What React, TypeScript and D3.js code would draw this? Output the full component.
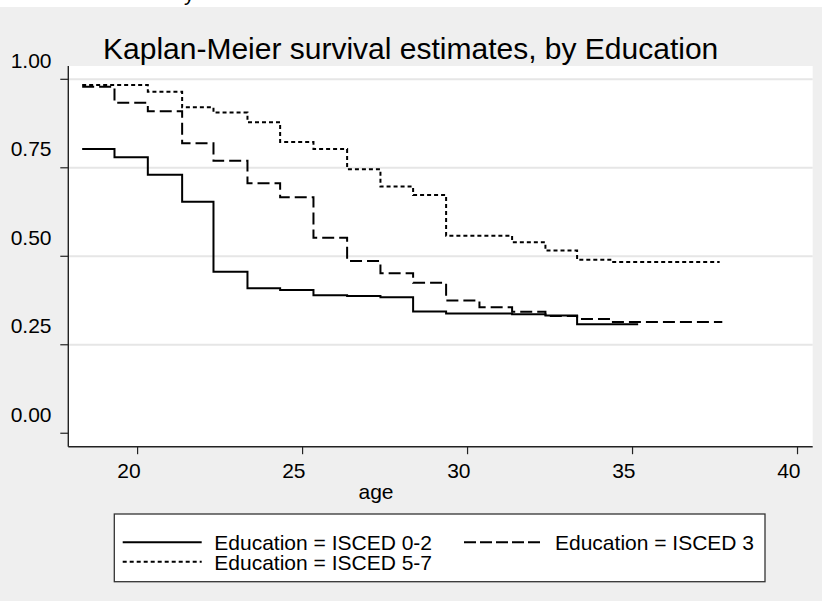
import React from "react";
import * as d3 from "d3";

const titleText = "Kaplan-Meier survival estimates, by Education";
const xLabel = "age";
const xTicks = [20, 25, 30, 35, 40];
const yTicks = [0, 0.25, 0.5, 0.75, 1];
const yTickLabels = ["0.00", "0.25", "0.50", "0.75", "1.00"];
const gridValues = [0.25, 0.5, 0.75, 1];

const seriesNames = ["Education = ISCED 0-2", "Education = ISCED 3", "Education = ISCED 5-7"];

const timesLow = [18.32, 19.3, 20.31, 21.35, 22.3, 23.33, 24.32, 25.33, 26.35, 27.36, 28.35, 29.35, 31.35, 32.36, 33.32];
const survLow = [0.803, 0.78, 0.73, 0.654, 0.456, 0.41, 0.405, 0.39, 0.388, 0.384, 0.344, 0.338, 0.336, 0.333, 0.308];
const endLow = 35.17;

const timesMid = [18.32, 19.3, 20.31, 21.35, 22.3, 23.33, 24.32, 25.33, 26.35, 27.36, 28.35, 29.35, 30.36, 31.35, 32.36, 33.32, 34.36];
const survMid = [0.979, 0.934, 0.91, 0.819, 0.77, 0.706, 0.667, 0.5525, 0.487, 0.452, 0.425, 0.375, 0.356, 0.3435, 0.331, 0.323, 0.3144];
const endMid = 37.72;

const timesHigh = [18.32, 20.31, 21.35, 22.3, 23.33, 24.32, 25.33, 26.35, 27.36, 28.35, 29.35, 31.35, 32.36, 33.32, 34.36];
const survHigh = [0.984, 0.965, 0.921, 0.906, 0.879, 0.823, 0.803, 0.746, 0.697, 0.673, 0.558, 0.5395, 0.516, 0.49, 0.484];
const endHigh = 37.64;

const FONT = "'Liberation Sans', Arial, Helvetica, sans-serif";

function stepPoints(times: number[], surv: number[], end: number): [number, number][] {
  const pts: [number, number][] = times.map((t, i) => [t, surv[i]]);
  pts.push([end, surv[surv.length - 1]]);
  return pts;
}

export default function App() {
  const W = 822;
  const H = 601;
  const plotL = 68.3, plotR = 812.7, plotT = 66, plotB = 446.7;

  const x = d3.scaleLinear().domain([17.9, 40.46]).range([plotL, plotR]);
  const y = d3.scaleLinear().domain([-0.038, 1.0376]).range([plotB, plotT]);

  const line = d3
    .line<[number, number]>()
    .x((d) => x(d[0]))
    .y((d) => y(d[1]))
    .curve(d3.curveStepAfter);

  const series = [
    { pts: stepPoints(timesLow, survLow, endLow), dash: undefined as string | undefined },
    { pts: stepPoints(timesMid, survMid, endMid), dash: "12,5" },
    { pts: stepPoints(timesHigh, survHigh, endHigh), dash: "4,3" },
  ];

  const axisColor = "#222";

  return (
    <svg
      width={W}
      height={H}
      style={{ position: "absolute", left: 0, top: 0, display: "block" }}
      xmlns="http://www.w3.org/2000/svg"
    >
      <rect x={0} y={0} width={W} height={H} fill="#efefef" />
      <rect x={0} y={0} width={W} height={7} fill="#ffffff" />
      <text x={184} y={1} fontFamily={FONT} fontSize={21} fill="#000">y</text>

      {/* plot region */}
      <rect x={plotL} y={plotT} width={plotR - plotL} height={plotB - plotT} fill="#ffffff" />

      {/* grid */}
      {gridValues.map((v) => (
        <line key={"g" + v} x1={plotL} x2={plotR} y1={y(v)} y2={y(v)} stroke="#e6e6e6" strokeWidth={2} />
      ))}

      {/* title */}
      <text x={103} y={59} fontFamily={FONT} fontSize={30} fill="#000">
        {titleText}
      </text>

      {/* curves */}
      {series.map((s, i) => (
        <path
          key={"s" + i}
          d={line(s.pts) || ""}
          fill="none"
          stroke="#000"
          strokeWidth={2}
          strokeDasharray={s.dash}
        />
      ))}

      {/* y axis */}
      <line x1={plotL} x2={plotL} y1={plotT} y2={plotB} stroke={axisColor} strokeWidth={1.4} />
      {yTicks.map((v, i) => (
        <g key={"yt" + v}>
          <line x1={plotL - 8} x2={plotL} y1={y(v)} y2={y(v)} stroke={axisColor} strokeWidth={1.2} />
          <text x={51.5} y={y(v) - 11.4} textAnchor="end" fontFamily={FONT} fontSize={21} fill="#000">
            {yTickLabels[i]}
          </text>
        </g>
      ))}

      {/* x axis */}
      <line x1={plotL} x2={plotR} y1={plotB} y2={plotB} stroke={axisColor} strokeWidth={1.4} />
      {xTicks.map((v) => (
        <g key={"xt" + v}>
          <line x1={x(v)} x2={x(v)} y1={plotB} y2={plotB + 7.5} stroke={axisColor} strokeWidth={1.2} />
          <text x={x(v) - 8.7} y={478.3} textAnchor="middle" fontFamily={FONT} fontSize={21} fill="#000">
            {v}
          </text>
        </g>
      ))}
      <text x={376} y={499} textAnchor="middle" fontFamily={FONT} fontSize={21} fill="#000">
        {xLabel}
      </text>

      {/* legend */}
      <rect x={114.3} y={514} width={650.7} height={67.7} fill="#ffffff" stroke="#333" strokeWidth={1.3} />
      <line x1={122.7} x2={201.7} y1={542.3} y2={542.3} stroke="#000" strokeWidth={2} />
      <text x={214.3} y={550} fontFamily={FONT} fontSize={21} fill="#000">{seriesNames[0]}</text>
      <line x1={464} x2={541} y1={542.3} y2={542.3} stroke="#000" strokeWidth={2} strokeDasharray="12,4" />
      <text x={555} y={550} fontFamily={FONT} fontSize={21} fill="#000">{seriesNames[1]}</text>
      <line x1={122.7} x2={201.7} y1={561.7} y2={561.7} stroke="#000" strokeWidth={2} strokeDasharray="4,3" />
      <text x={214.3} y={570} fontFamily={FONT} fontSize={21} fill="#000">{seriesNames[2]}</text>
    </svg>
  );
}
